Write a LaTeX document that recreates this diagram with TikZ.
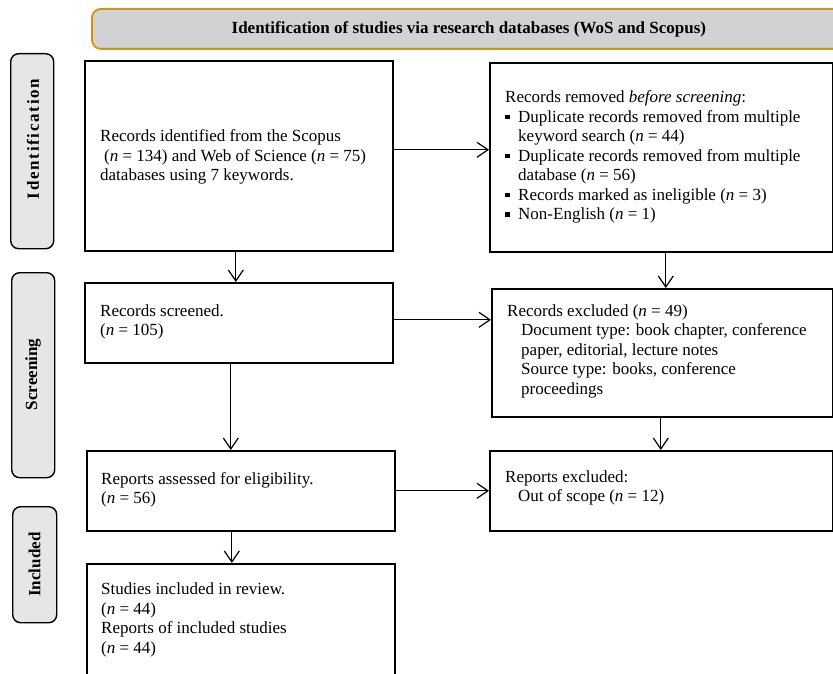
\documentclass[tikz,border=0pt]{standalone}
\usepackage{fontspec}
\setmainfont{Liberation Serif}
\usetikzlibrary{arrows.meta,calc}
\definecolor{gold}{RGB}{200,150,15}
\definecolor{bannerfill}{RGB}{210,209,211}
\definecolor{tabfill}{RGB}{230,230,230}
\newcommand{\sqbul}{\makebox[13pt][l]{\rule[3pt]{4.5pt}{4.5pt}}}
\begin{document}
\begin{tikzpicture}[x=1pt,y=-1pt,
  box/.style={draw=black, line width=1.6pt, rectangle, inner sep=0pt, anchor=north west},
  txt/.style={align=left, inner sep=0pt, anchor=west, font=\fontsize{17}{19.5}\selectfont},
  tabbox/.style={draw=black, line width=1.4pt, fill=tabfill, rounded corners=8pt, inner sep=0pt, anchor=north west},
  tablabel/.style={rotate=90, font=\fontsize{17}{19.5}\selectfont\bfseries, inner sep=0pt},
  arr/.style={-{Straight Barb[length=11pt,width=15pt,line width=1.2pt]}, line width=1.2pt}
]
\useasboundingbox (0,0) rectangle (833,674);

% banner
\node[draw=gold, fill=bannerfill, line width=1.8pt, rounded corners=9pt, anchor=north west,
      minimum width=754pt, minimum height=40pt, inner sep=0pt,
      font=\fontsize{17}{19.5}\selectfont\bfseries] (banner) at (91,8)
      {Identification of studies via research databases (WoS and Scopus)};

% phase tabs
\node[tabbox, minimum width=43pt, minimum height=195pt] (tabI) at (10,53) {};
\node[tabbox, minimum width=43pt, minimum height=205pt] (tabS) at (11,272) {};
\node[tabbox, minimum width=44pt, minimum height=116pt] (tabN) at (12,506) {};
\node[tablabel] (labI) at (33,139) {\addfontfeature{LetterSpace=10}Identification};
\node[tablabel] (labS) at (33,374.5) {Screening};
\node[tablabel] (labN) at (34.5,564.5) {Included};

% boxes
\node[box, minimum width=308pt, minimum height=190pt] (b1) at (84,60) {};
\node[box, minimum width=343pt, minimum height=189pt] (r1) at (489,62) {};
\node[box, minimum width=308pt, minimum height=80pt] (b2) at (84,282) {};
\node[box, minimum width=341pt, minimum height=128pt] (r2) at (491,288) {};
\node[box, minimum width=308pt, minimum height=80pt] (b3) at (86,450) {};
\node[box, minimum width=343pt, minimum height=80pt] (r3) at (489,450) {};
\node[box, minimum width=308pt, minimum height=116pt] (b4) at (86,563) {};

% texts
\node[txt] (t1) at (100,157) {Records identified from the Scopus\\
\hspace*{4pt}(\textit{n} = 134) and Web of Science (\textit{n} = 75)\\
databases using 7 keywords.};
\node[txt] (tr1) at (505,157) {Records removed \textit{before screening}:\\
\sqbul Duplicate records removed from multiple\\
\hspace*{13pt}keyword search (\textit{n} = 44)\\
\sqbul Duplicate records removed from multiple\\
\hspace*{13pt}database (\textit{n} = 56)\\
\sqbul Records marked as ineligible (\textit{n} = 3)\\
\sqbul Non-English (\textit{n} = 1)};
\node[txt] (t2) at (100,322) {Records screened.\\(\textit{n} = 105)};
\node[txt] (tr2) at (507,351) {Records excluded (\textit{n} = 49)\\
\hspace*{14pt}Document type: book chapter, conference\\
\hspace*{14pt}paper, editorial, lecture notes\\
\hspace*{14pt}Source type: books, conference\\
\hspace*{14pt}proceedings};
\node[txt] (t3) at (101,490) {Reports assessed for eligibility.\\(\textit{n} = 56)};
\node[txt] (tr3) at (505,488) {Reports excluded:\\
\hspace*{13pt}Out of scope (\textit{n} = 12)};
\node[txt] (t4) at (101,620) {Studies included in review.\\(\textit{n} = 44)\\
Reports of included studies\\(\textit{n} = 44)};

% connectors
\draw[arr] ([yshift=6pt]b1.east) -- ([yshift=6pt]b1.east -| r1.west);
\draw[arr] ([yshift=3pt]b2.east) -- ([yshift=3pt]b2.east -| r2.west);
\draw[arr] (b3.east) -- (b3.east -| r3.west);
\draw[arr] ([xshift=-3pt]b1.south) -- ([xshift=-3pt]b1.south |- b2.north);
\draw[arr] ([xshift=4.5pt]r1.south) -- ([xshift=4.5pt]r1.south |- r2.north);
\draw[arr] ([xshift=-8pt]b2.south) -- ([xshift=-8pt]b2.south |- b3.north);
\draw[arr] ([xshift=-9pt]b3.south) -- ([xshift=-9pt]b3.south |- b4.north);
\draw[arr] ([xshift=-1.5pt]r2.south) -- ([xshift=-1.5pt]r2.south |- r3.north);
\end{tikzpicture}
\end{document}
